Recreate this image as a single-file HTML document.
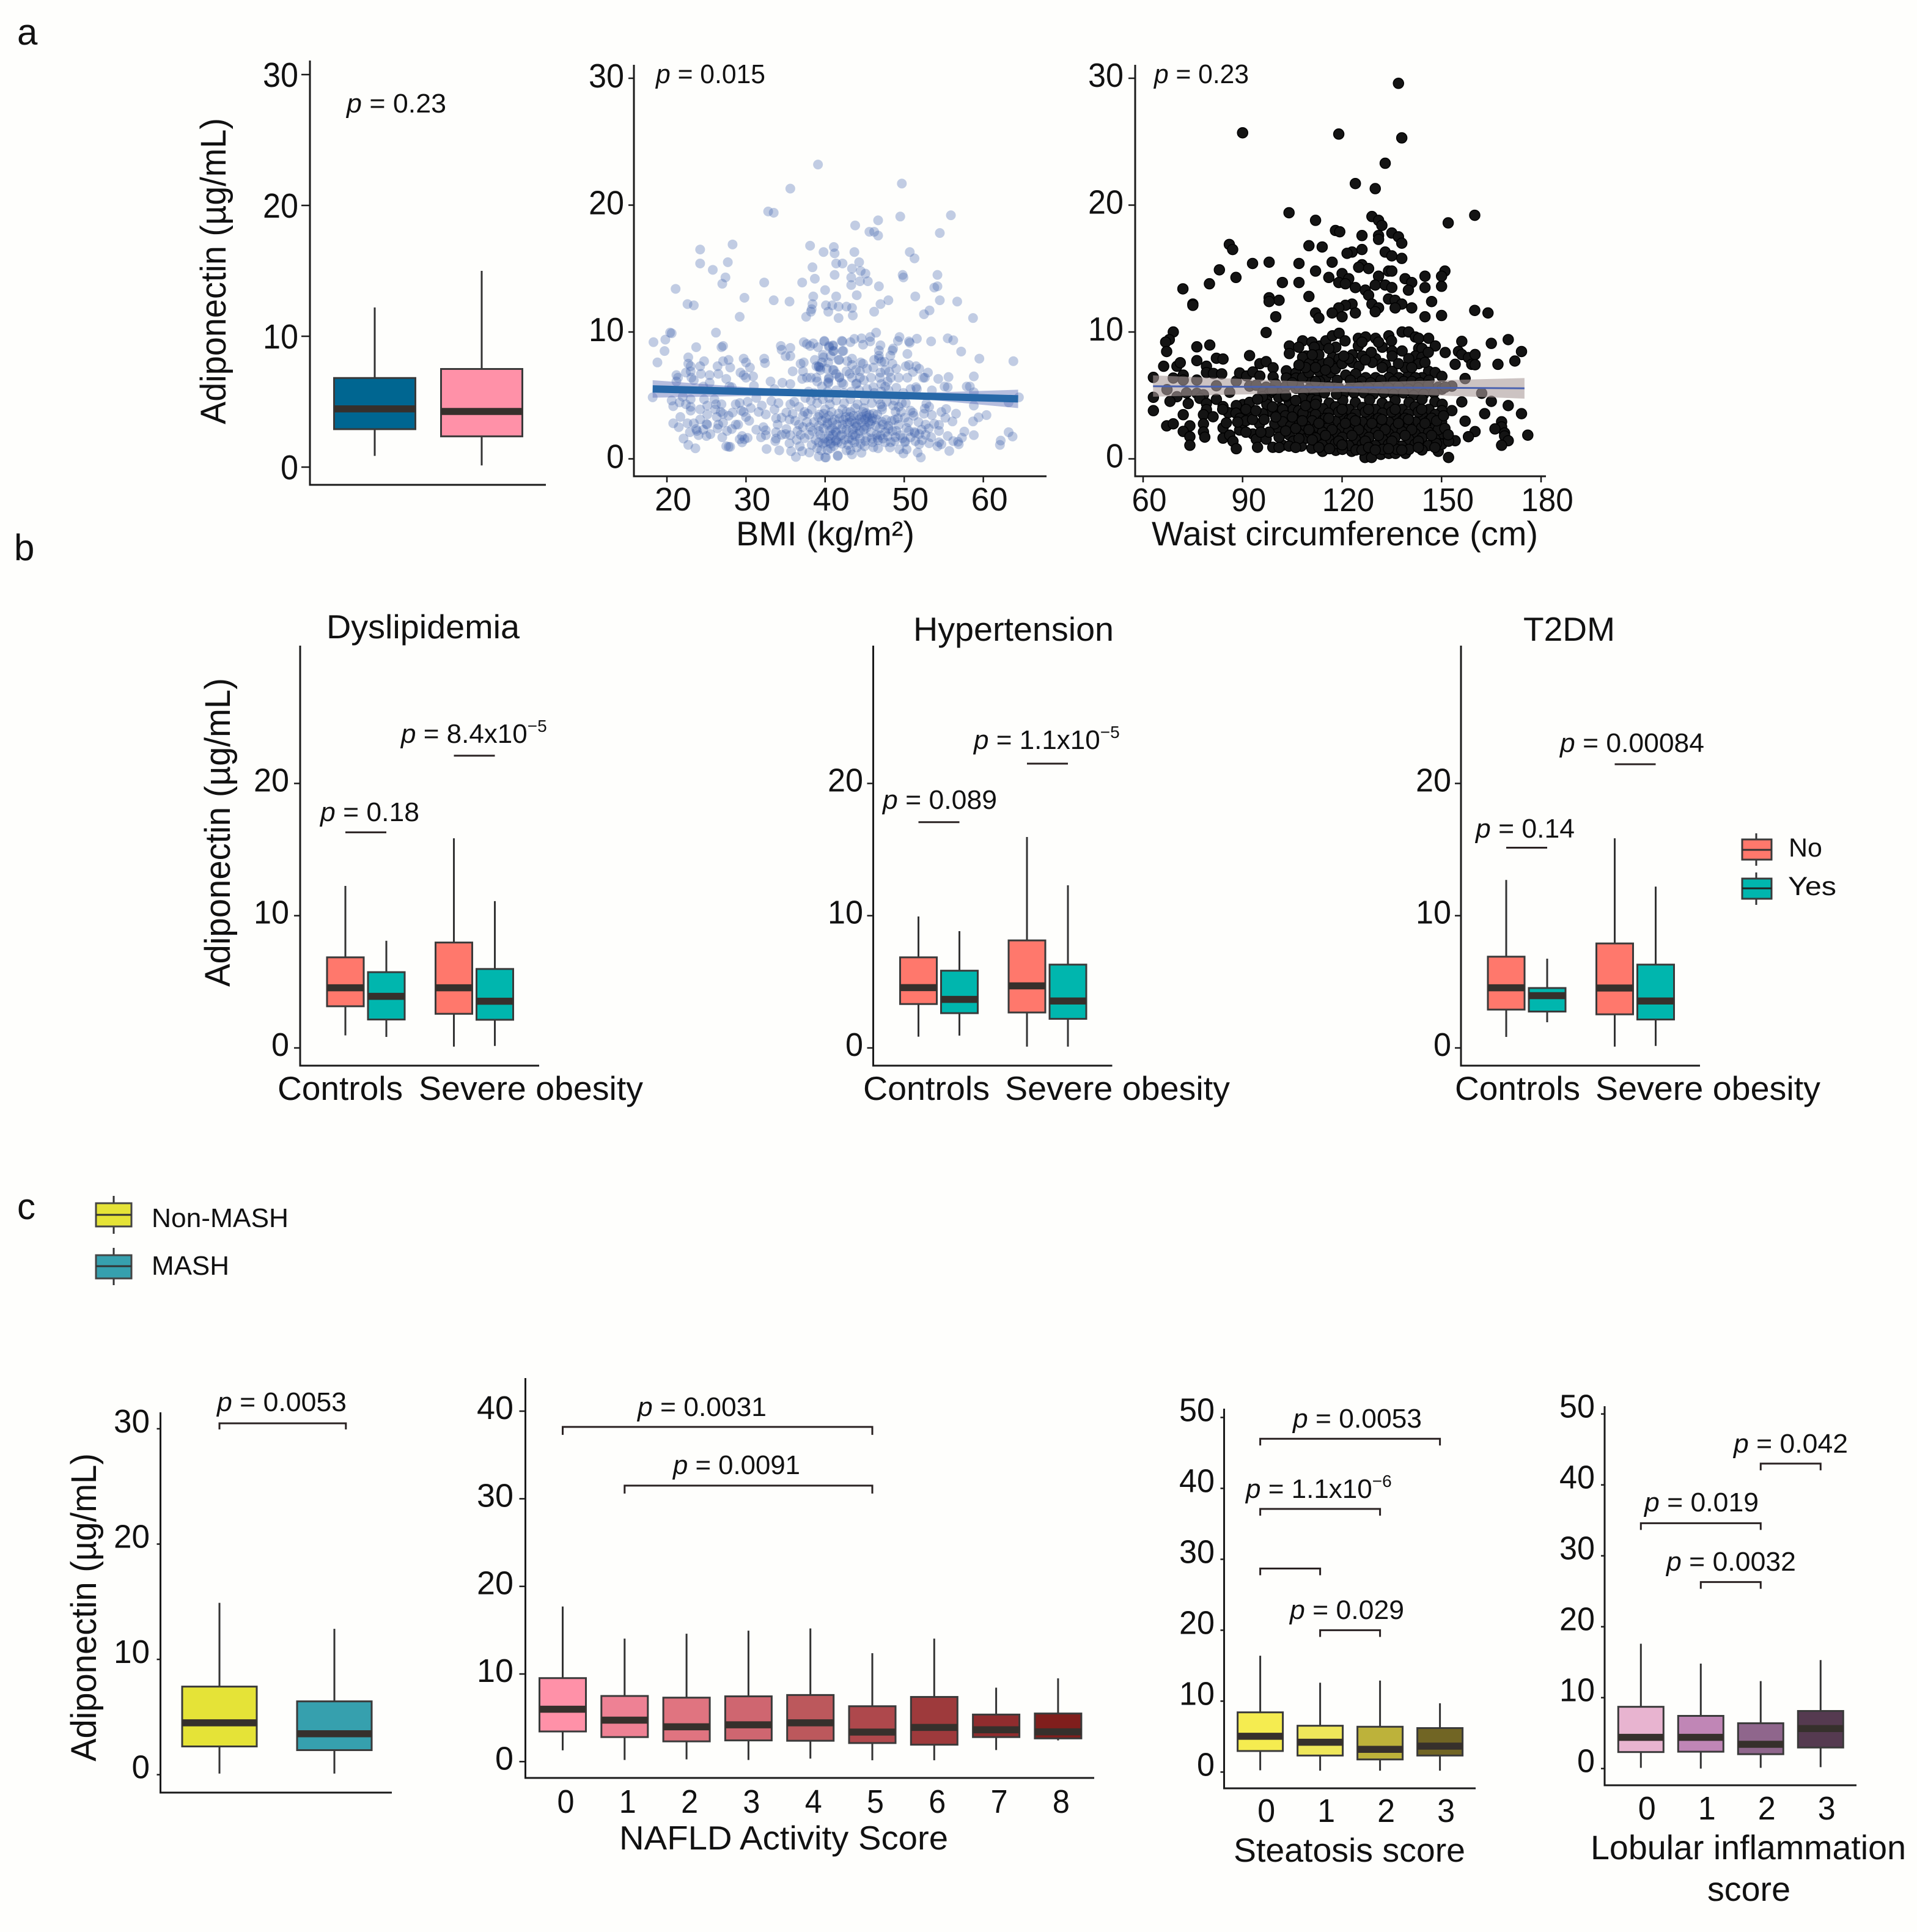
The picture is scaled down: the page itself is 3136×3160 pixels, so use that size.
<!DOCTYPE html>
<html lang="en">
<head>
<meta charset="utf-8">
<title>Adiponectin panels</title>
<style>
html,body{margin:0;padding:0;background:#fefefc;}
svg{display:block;font-family:"Liberation Sans",Arial,sans-serif;fill:#111;}
text{fill:#111;}
</style>
</head>
<body>
<svg id="figure" xmlns="http://www.w3.org/2000/svg" width="3136" height="3160" viewBox="0 0 3136 3160">
<rect width="3136" height="3160" fill="#fefefc"/>

<text x="28" y="73" font-size="60">a</text>
<text x="23" y="916" font-size="60">b</text>
<text x="28" y="1994" font-size="60">c</text>

<g id="a1">
<text transform="translate(369,694) rotate(-90)" font-size="58" textLength="501" lengthAdjust="spacingAndGlyphs">Adiponectin (µg/mL)</text>
<text x="567" y="184" font-size="44" textLength="163" lengthAdjust="spacingAndGlyphs"><tspan font-style="italic">p</tspan> = 0.23</text>
</g>
<g id="a2">
<text x="1073" y="136" font-size="44" textLength="179" lengthAdjust="spacingAndGlyphs"><tspan font-style="italic">p</tspan> = 0.015</text>
<text x="1204" y="892" font-size="56" textLength="292" lengthAdjust="spacingAndGlyphs">BMI (kg/m²)</text>
</g>
<g id="a3">
<text x="1888" y="136" font-size="44" textLength="155" lengthAdjust="spacingAndGlyphs"><tspan font-style="italic">p</tspan> = 0.23</text>
<text x="1884" y="892" font-size="56" textLength="632" lengthAdjust="spacingAndGlyphs">Waist circumference (cm)</text>
</g>

<g id="b1">
<text x="534" y="1044" font-size="55" textLength="316" lengthAdjust="spacingAndGlyphs">Dyslipidemia</text>
<text transform="translate(376,1614) rotate(-90)" font-size="58" textLength="505" lengthAdjust="spacingAndGlyphs">Adiponectin (µg/mL)</text>
<text x="524" y="1343" font-size="44" textLength="162" lengthAdjust="spacingAndGlyphs"><tspan font-style="italic">p</tspan> = 0.18</text>
<text x="656" y="1215" font-size="44"><tspan font-style="italic">p</tspan> = 8.4x10<tspan dy="-18" font-size="28">−5</tspan></text>
<text x="454" y="1799" font-size="55" textLength="205" lengthAdjust="spacingAndGlyphs">Controls</text>
<text x="685" y="1799" font-size="55" textLength="367" lengthAdjust="spacingAndGlyphs">Severe obesity</text>
</g>
<g id="b2">
<text x="1494" y="1048" font-size="55" textLength="328" lengthAdjust="spacingAndGlyphs">Hypertension</text>
<text x="1444" y="1323" font-size="44" textLength="187" lengthAdjust="spacingAndGlyphs"><tspan font-style="italic">p</tspan> = 0.089</text>
<text x="1593" y="1225" font-size="44"><tspan font-style="italic">p</tspan> = 1.1x10<tspan dy="-18" font-size="28">−5</tspan></text>
<text x="1412" y="1799" font-size="55" textLength="207" lengthAdjust="spacingAndGlyphs">Controls</text>
<text x="1644" y="1799" font-size="55" textLength="368" lengthAdjust="spacingAndGlyphs">Severe obesity</text>
</g>
<g id="b3">
<text x="2492" y="1048" font-size="55" textLength="150" lengthAdjust="spacingAndGlyphs">T2DM</text>
<text x="2414" y="1370" font-size="44" textLength="162" lengthAdjust="spacingAndGlyphs"><tspan font-style="italic">p</tspan> = 0.14</text>
<text x="2552" y="1230" font-size="44" textLength="236" lengthAdjust="spacingAndGlyphs"><tspan font-style="italic">p</tspan> = 0.00084</text>
<text x="2380" y="1799" font-size="55" textLength="205" lengthAdjust="spacingAndGlyphs">Controls</text>
<text x="2610" y="1799" font-size="55" textLength="368" lengthAdjust="spacingAndGlyphs">Severe obesity</text>
</g>
<g id="legend-b">
<g>
<line x1="2873" x2="2873" y1="1363" y2="1416" stroke="#333" stroke-width="3"/>
<rect x="2850" y="1373" width="48" height="33" fill="#ff786c" stroke="#3a3a3a" stroke-width="3"/>
<line x1="2850" x2="2898" y1="1390" y2="1390" stroke="#333" stroke-width="3"/>
<text x="2926" y="1401" font-size="43">No</text>
</g>
<g>
<line x1="2873" x2="2873" y1="1427" y2="1480" stroke="#333" stroke-width="3"/>
<rect x="2850" y="1437" width="48" height="33" fill="#00b6ae" stroke="#3a3a3a" stroke-width="3"/>
<line x1="2850" x2="2898" y1="1453" y2="1453" stroke="#222" stroke-width="3"/>
<text x="2925" y="1464" font-size="43" textLength="79" lengthAdjust="spacingAndGlyphs">Yes</text>
</g>
</g>

<g id="legend-c">
<g>
<line x1="186" x2="186" y1="1956" y2="2018" stroke="#333" stroke-width="3"/>
<rect x="157" y="1968" width="58" height="38" fill="#e5e337" stroke="#444" stroke-width="3"/>
<line x1="157" x2="215" y1="1987" y2="1987" stroke="#333" stroke-width="3"/>
<text x="248" y="2007" font-size="44" textLength="224" lengthAdjust="spacingAndGlyphs">Non-MASH</text>
</g>
<g>
<line x1="186" x2="186" y1="2041" y2="2102" stroke="#333" stroke-width="3"/>
<rect x="157" y="2053" width="58" height="38" fill="#36a0ae" stroke="#444" stroke-width="3"/>
<line x1="157" x2="215" y1="2071" y2="2071" stroke="#333" stroke-width="3"/>
<text x="248" y="2085" font-size="44" textLength="127" lengthAdjust="spacingAndGlyphs">MASH</text>
</g>
</g>

<g id="c1">
<text transform="translate(157,2881) rotate(-90)" font-size="58" textLength="504" lengthAdjust="spacingAndGlyphs">Adiponectin (µg/mL)</text>
<text x="355" y="2308" font-size="44" textLength="212" lengthAdjust="spacingAndGlyphs"><tspan font-style="italic">p</tspan> = 0.0053</text>
</g>
<g id="c2">
<text x="1043" y="2316" font-size="44" textLength="211" lengthAdjust="spacingAndGlyphs"><tspan font-style="italic">p</tspan> = 0.0031</text>
<text x="1101" y="2411" font-size="44" textLength="208" lengthAdjust="spacingAndGlyphs"><tspan font-style="italic">p</tspan> = 0.0091</text>
<text x="1013" y="3025" font-size="55" textLength="538" lengthAdjust="spacingAndGlyphs">NAFLD Activity Score</text>
</g>
<g id="c3">
<text x="2115" y="2335" font-size="44" textLength="211" lengthAdjust="spacingAndGlyphs"><tspan font-style="italic">p</tspan> = 0.0053</text>
<text x="2038" y="2450" font-size="44"><tspan font-style="italic">p</tspan> = 1.1x10<tspan dy="-18" font-size="28">−6</tspan></text>
<text x="2110" y="2648" font-size="44" textLength="187" lengthAdjust="spacingAndGlyphs"><tspan font-style="italic">p</tspan> = 0.029</text>
<text x="2018" y="3045" font-size="55" textLength="379" lengthAdjust="spacingAndGlyphs">Steatosis score</text>
</g>
<g id="c4">
<text x="2836" y="2376" font-size="44" textLength="187" lengthAdjust="spacingAndGlyphs"><tspan font-style="italic">p</tspan> = 0.042</text>
<text x="2690" y="2472" font-size="44" textLength="187" lengthAdjust="spacingAndGlyphs"><tspan font-style="italic">p</tspan> = 0.019</text>
<text x="2726" y="2569" font-size="44" textLength="212" lengthAdjust="spacingAndGlyphs"><tspan font-style="italic">p</tspan> = 0.0032</text>
<text x="2602" y="3041" font-size="56" textLength="516" lengthAdjust="spacingAndGlyphs">Lobular inflammation</text>
<text x="2793" y="3109" font-size="56" textLength="136" lengthAdjust="spacingAndGlyphs">score</text>
</g>
</svg>

<script>
// ---- Panel a: box plot ----
const a1Groups = ['Controls', 'Severe obesity'];
const a1Low = [0.86, 0.13];
const a1Q1 = [2.9, 2.35];
const a1Median = [4.45, 4.25];
const a1Q3 = [6.81, 7.5];
const a1High = [12.2, 15];
const a1Colors = ['#006691', '#ff91a8'];
const commonTicks = [0, 10, 20, 30];
const tallTicks = [0, 10, 20, 30, 40];
const tallestTicks = [0, 10, 20, 30, 40, 50];
const panelBTicks = [0, 10, 20];

// ---- Panel b ----
const b1Low = [0.95, 0.83, 0.1, 0.15];
const b1Q1 = [3.15, 2.15, 2.58, 2.13];
const b1Median = [4.55, 3.9, 4.55, 3.53];
const b1Q3 = [6.85, 5.73, 7.97, 5.97];
const b1High = [12.25, 8.1, 15.85, 11.1];
const b2Low = [0.85, 0.93, 0.1, 0.1];
const b2Q1 = [3.32, 2.63, 2.68, 2.2];
const b2Median = [4.56, 3.67, 4.69, 3.55];
const b2Q3 = [6.85, 5.84, 8.13, 6.3];
const b2High = [9.94, 8.83, 15.95, 12.3];
const b3Low = [0.83, 1.94, 0.1, 0.15];
const b3Q1 = [2.9, 2.75, 2.54, 2.15];
const b3Median = [4.55, 3.95, 4.53, 3.55];
const b3Q3 = [6.9, 4.53, 7.9, 6.3];
const b3High = [12.7, 6.75, 15.85, 12.2];
const bColors = ['#ff786c', '#00b6ae', '#ff786c', '#00b6ae'];
const b1BracketLevels = [16.3, 22.1];
const b2BracketLevels = [17.07, 21.5];
const b3BracketLevels = [15.14, 21.45];
const bBracketFrom = [0, 2];
const bBracketTo = [1, 3];

// ---- Panel c ----
const c1Low = [0.1, 0.1];
const c1Q1 = [2.45, 2.13];
const c1Median = [4.5, 3.55];
const c1Q3 = [7.64, 6.36];
const c1High = [14.9, 12.65];
const c1Colors = ['#e5e337', '#36a0ae'];
const c1BracketFrom = [0];
const c1BracketTo = [1.1];
const c1BracketLevels = [30.47];

const c2Categories = ['0', '1', '2', '3', '4', '5', '6', '7', '8'];
const c2Low = [1.29, 0.19, 0.26, 0.19, 0.34, 0.15, 0.15, 1.32, 2.42];
const c2Q1 = [3.44, 2.8, 2.31, 2.42, 2.38, 2.12, 1.93, 2.8, 2.65];
const c2Median = [5.98, 4.73, 3.97, 4.2, 4.43, 3.37, 3.9, 3.63, 3.4];
const c2Q3 = [9.53, 7.49, 7.3, 7.45, 7.6, 6.32, 7.38, 5.37, 5.49];
const c2High = [17.7, 14.04, 14.6, 14.95, 15.2, 12.37, 14.04, 8.44, 9.5];
const c2Colors = ['#ff91a8', '#ee8194', '#e07480', '#cf6670', '#bc585c', '#ae484c', '#9e3a3c', '#902c2e', '#801e1c'];
const c2BracketFrom = [0, 1];
const c2BracketTo = [5, 5];
const c2BracketLevels = [38.2, 31.5];

const c3Categories = ['0', '1', '2', '3'];
const c3Low = [0.25, 0.2, 0.2, 0.2];
const c3Q1 = [2.97, 2.33, 1.78, 2.33];
const c3Median = [5.05, 4.2, 3.2, 3.66];
const c3Q3 = [8.42, 6.53, 6.39, 6.2];
const c3High = [16.4, 12.6, 12.9, 9.7];
const c3Colors = ['#f5ec50', '#efe75a', '#bdb23a', '#716524'];
const c3BracketFrom = [0, 0, 0, 1];
const c3BracketTo = [3, 2, 1, 2];
const c3BracketLevels = [47, 37.1, 28.7, 20];

const c4Categories = ['0', '1', '2', '3'];
const c4Low = [0.1, 0, 0.1, 0.2];
const c4Q1 = [2.33, 2.38, 2.03, 2.97];
const c4Median = [4.4, 4.4, 3.42, 5.64];
const c4Q3 = [8.71, 7.43, 6.39, 8.12];
const c4High = [17.6, 14.8, 12.33, 15.3];
const c4Colors = ['#e8b4d0', '#c086b6', '#8f668c', '#553a50'];
const c4BracketFrom = [2, 0, 1];
const c4BracketTo = [3, 2, 2];
const c4BracketLevels = [43, 34.6, 26.3];

// ---- Panel a: BMI scatter ----
const bmiTicksX = [20, 30, 40, 50, 60];
const bmiFitX = [18.2, 30, 41, 52, 64.4];
const bmiFitY = [5.51, 5.31, 5.14, 4.95, 4.73];
const bmiFitUpper = [6.2, 5.65, 5.33, 5.2, 5.45];
const bmiFitLower = [4.82, 4.95, 4.95, 4.72, 4.0];
const bmiPoints = [
[39.1,23.2],[49.7,21.7],[35.6,21.3],[32.8,19.5],[33.5,19.4],[49.5,19.1],[55.9,19.2],[46.7,18.8],[43.8,18.4],[45.6,17.9],[46.2,17.9],[46.7,17.6],[54.5,17.8],[28.3,16.9],[24.2,16.5],[38.1,16.8],[41.1,16.7],[39.8,16.3],[41.2,16.2],[43.7,16.3],[50.7,16.3],[51.3,15.8],[24.2,15.4],[27.7,15.5],[44.3,15.5],[41.4,15.4],[42.2,15.4],[38.4,15.1],[43.4,15],[25.8,14.9],[44.5,14.8],[45.1,14.6],[27.4,14.3],[41.2,14.5],[49.8,14.5],[49.9,14.3],[54.2,14.5],[38.7,14.2],[43.3,14.3],[32.3,13.9],[37.1,13.9],[44.4,14],[45.4,14],[27,13.8],[43.3,13.7],[46.8,13.6],[53.8,13.5],[54.2,13.6],[21.1,13.4],[40,13.3],[38.5,12.8],[41.4,12.8],[44,12.9],[51.4,12.8],[29.8,12.7],[33.5,12.5],[35.5,12.4],[48,12.5],[54.5,12.5],[56.7,12.4],[22.6,12.2],[23.4,12.1],[40.1,12.1],[38.4,12.2],[40.9,12.1],[41.7,12],[42.7,12],[43.4,11.9],[47,12.2],[38.3,11.8],[38.2,11.6],[40.4,11.6],[46.2,11.6],[53.2,11.7],[29.2,11.2],[37.6,11.2],[41.7,11.1],[43.5,11.3],[52.5,11.4],[58.7,11.1],
[18.3,9.2],[19.8,9.4],[20.4,9.95],[20.6,9.9],[19.7,8.5],[18.8,7.6],[26.2,9.95],[23.7,8.8],[27.1,8.9],[26.9,8.8],[22.7,8],[24.7,7.7],[22.7,7.5],[23,7.3],[24.2,7.3],[22.4,6.8],[23,6.9],[24.3,6.7],[21.2,6.6],[21.4,6.4],[21.2,6.1],[23.1,6.4],[23.4,6.2],[25.4,6.6],[26.5,6.7],[26.4,7.3],[27.1,7.7],[27.8,7.8],[28,7.2],[29.7,7.9],[30,7.6],[29.3,6.8],[29.7,6.6],[30,6.4],[30.9,6.5],[27.9,5.7],[24.6,5.7],[28.2,5.65],[31,5.76],[32.3,7.9],[32.4,7.55],[34.4,8.9],[34.5,8.6],[35.6,8.75],[35,8.1],[35.6,8.1],[35.9,6.9],[36.9,7.5],[37.3,7.6],[37.2,6.9],[34.6,6],[35.6,5.9],[37.3,9.2],[37.7,9.05],[38.1,8.9],[38.5,9.1],[39.1,8.8],[39.9,9.3],[40.5,8.8],[41,8.9],[41.1,8.5],[42.1,9.3],[39.7,8.2],[39.8,8],[40.4,7.6],[40.7,8.1],[41.7,7.8],[42.2,8.5],[39.2,7.3],[39.4,7],[39.2,7.25],[37.7,6.4],[38.2,6.4],[38.9,6.4],[37.1,6.3],[40.5,6.4],[40.4,6.05],[41.1,7],[41.4,6.7],[41.8,6.4],[42.1,6],
[18.2,4.85],[20.6,4.6],[20.8,4.15],[21.6,4.45],[22.4,4.3],[23,4.7],[23,4.1],[23,3.8],[24.2,3.9],[25.1,4.2],[24.7,4.7],[26,4.7],[26.2,4.3],[26.9,4.3],[26.1,3.9],[26.8,3.7],[27.1,3.55],[25.1,3.5],[27.8,3.4],[28.3,3.65],[28.7,4.3],[29.2,4.4],[30.2,4.5],[29.4,3.8],[29.7,3.7],[30.6,4],[30,3.3],[30.4,3],[31.6,3.7],[32,4.2],[32.5,3.5],[33.6,3.9],[33.2,4.56],[35.6,4.3],[35.1,3.65],[35.9,3.55],[34.5,3.24],[35.5,3.1],[21.7,3.3],[20.8,2.8],[21.5,2.5],[22.6,2.8],[23.4,2.8],[22.9,2.1],[23.7,2.35],[23.8,2.2],[24,1.87],[22.1,1.6],[22.7,1.1],[23.6,0.83],[25,1.8],[25.5,1.95],[25.1,2.7],[25,2.75],[26.4,2.4],[26.5,2.7],[27.1,2.85],[28.2,2.35],[28.7,2.7],[29,2.7],[27,1.7],[27.5,1],[27.8,0.95],[28,0.95],[29.5,1.8],[29.2,1.55],[29.5,1.3],[29.8,1.55],[30.2,1.65],[31.3,2.3],[31.9,1.7],[32.2,2.5],[32.5,2.25],[32.5,1.87],[32.6,0.78],[34.2,0.67],[34,2.7],[33.8,2.1],[33.8,1.6],[33.7,1.4],[35.1,2.35],[35,1.95],[35.6,1.87],[35.5,1.23],[35.7,0.6],[36.3,0.15],[37.1,0.6],[36.8,0.99],[37.4,1.63],[37.2,3.4],[36.7,2.7],[37.8,3.56],[37.4,3.7],[39.2,0.19],[40.1,0.11],[41.6,0.27],[39,0.83],[39.5,0.67],[40.7,0.83],
[39.9,9.26],[40.5,8.9],[41,8.95],[41,8.5],[42.2,9.26],[42.3,8.5],[43.2,9.2],[43.7,9.46],[44.6,9.5],[44.8,9],[45.7,9.6],[45.7,9.26],[46.45,9.95],[47,8.95],[46.8,8.54],[46.8,8.14],[48.6,8.7],[48.5,8.54],[48.25,8.14],[49.4,9.6],[49.2,9.3],[50.6,9.26],[51.6,9.47],[50.7,9.15],[53.4,9.26],[55.5,9.5],[56.2,9.35],[57.2,8.46],[59.5,7.9],[63.8,7.7],[50.4,8.27],[41.8,7.8],[42.8,7.7],[43.4,7.9],[43.4,7.4],[44.5,7.6],[44.8,7.5],[45.3,7.1],[46.1,7.2],[46.2,7.8],[46.8,7.9],[47.1,7.65],[47.5,7.65],[47,6.8],[47.6,7],[48.1,6.85],[48.5,7.5],[49,7.1],[45.8,6.4],[48.3,6.4],[49.3,6.4],[50.4,6.4],[50.2,7.3],[50.6,7.4],[51.1,6.85],[51.5,7.3],[51.9,7.1],[53,6.8],[52.4,6.4],[52.6,6.4],[54.3,6.3],[55.6,6.45],[58.8,6.5],[51.5,5.65],[51.6,5.5],[53.5,5.4],[55.1,5.7],[55.5,5.65],[57.9,5.7],[58.3,5.7],[58.8,5.25],[43.1,6.7],[43.4,6.4],[44.4,6.4],[41,7],[41.8,6.45],[40.45,6.3],[42.3,5.9],[43.9,5.9],[44,5.95],[46.1,5.65],[47.1,5.9],[47.6,5.7],[40.4,5.97],[39.4,7.2],[64.5,4.85],[63.2,4.45],[58.8,4.2],[52.8,4.35],[53.15,4.1],[54.7,3.7],[55.3,3.93],[55.2,3.24],[56.1,2.95],[56.55,3.56],[53.5,3.45],[52.6,3.96],[52.5,3.56],[58.7,2.95],[59.4,3.27],[60.4,3.45],[63.2,2.1],[63.7,1.76],[62.2,1.44],[62.1,1.1],[57.6,2.15],[58.8,1.87],[57.3,1.67],[56.8,1.35],[56.2,1.4],[56.9,1.15],[55.5,1.8],[55.7,0.62],[54.4,2.68],[53.8,2.76],[54.4,2.2],[54.2,0.99],[54.7,1.15],[54.4,1.31],[51.9,1.15],[52.1,0.11],[51.7,0.5],[53.15,1.23],[53.4,1.71],[52.25,1.47],[51.9,1.95],[51.35,2.03],[50.6,2.2],[50.1,1.31],[49.4,0.75],[49.9,0.43],[50.3,0.75],[47.2,3.88],[47.2,4.1],[47,4.3],[48.9,3.72],[51.1,3.64],[51.2,3.4],[50.05,3.24],[48.8,3.08],[48,2.36],[48.9,1.71],[46.6,1.63],[46.7,1.47],[47,1.87],[46.1,0.91],[46.7,0.83],[44.6,0.48],[43.4,0.35],[43.2,0.67],[41.6,0.22],[40,0.11],
[45.4,3.24],[45.3,3.4],[44.8,3.7],[44.4,2.2],[44,2.6],[43.2,3.7],[42.1,2.36],[41.6,1.3],[40.3,2.7],[40.3,2.84],[43.4,1.47],[41.4,1.47],[40.4,1.39],[42.7,0.67],[43.9,2.5],[41.7,3.56],[40.8,3.7],[39.8,3.56],[42.3,3.08],[43.6,3.4],[46.1,3.56],[45.7,2.76],[45.2,2.44],[47.2,2.92],[47.7,3.08],[48,2.6],[49.3,2.68],[48.3,1.31],[48.8,1.39],[49.8,1.63],[50.1,1.39],[49.5,1.87],[50.3,2.44],[51.3,2.12],
[38.2,4.6],[39,4.4],[39.7,4.7],[40.6,4.3],[41.4,4.6],[42.4,4.4],[43.2,4.7],[44.1,4.3],[45,4.6],[45.9,4.4],[46.7,4.7],[47.8,4.5],[48.8,4.6],[49.7,4.4],[38.3,3.9],[39.1,3.3],[38.6,2.9],[39.2,2.6],[38.4,2.2],[39.4,1.9],[38.8,1.5],[39.7,1.2],[40.6,2.2],[41,1.9],[41.5,2.7],[42.8,2.8],[43,2.1],[43.8,1.8],[44.5,1.2],[45.3,1.7],[45.8,2.1],[46.4,2.6],[47.6,2.1],[47.6,1.3],[48.2,0.9],[49,2.2],[38.1,2.5],[37.7,2.9],[38,1.9],[38.3,1.1],[39.8,2.4],[40.1,3.2],[40.9,2.9],[41.2,3.1],[42.2,3.9],[42.6,3.3],[43.1,2.9],[43.5,2.3],[44.6,2.9],[44.3,3.1],[45,2.6],[45.9,3],[46.5,3.1],[46.9,2.4],[41.9,1.8],[42.5,1.5],[42.9,1.1],[44,0.9],[45,1],[46,1.3],[40.3,0.7],[41.1,1],[39.2,1.3],[38,0.5],[40.7,1.6],[36.9,1.9],[36.5,2.2],[37.2,2.5],[36.2,3],[36.7,4.1],[37.5,4.8],[38.6,5.2],[40.3,5.3],[42.4,5.2],[44.3,5.4],[46.2,5.2],[48,5.4],[49.9,5.2],
[39.3,3.5],[39.6,3],[40,3.9],[40.5,3.4],[40.9,2.4],[41.3,2.2],[41.8,3.2],[42.2,2.7],[42.7,3.7],[43.1,3.3],[43.4,3],[43.8,2.8],[44.2,3.4],[44.6,3.3],[45,3.1],[45.2,3.6],[45.6,3.5],[45.5,2.9],[46,3.2],[44.9,2.3],[44.2,2],[43.5,1.9],[42.7,2.3],[42.1,1.9],[41.4,2.1],[40.5,1.8],[39.9,1.6],[39.2,2.2],[40,1.3],[40.7,1.2],[41.3,1.4],[42.1,1.2],[43,1.6],[43.7,1.3],[44.4,1.6],[45.1,1.4],[45.9,1.6],[46.5,1.9],[47.3,1.6],[47.9,1.8],[47.3,2.7],[46.6,3.5],[48.4,3],[48.5,2.2],[49.2,3.2],[49.6,3.7],[50.5,2.9],[50.8,3.8],[51.8,2.9],[52.2,2.3],[52.7,2.7],[53.1,2.4],[51.4,1.4],[52.7,1.9],[50.8,1.7],[48.6,4.2],[49.3,4.1],[50.2,4.4],[44.9,4],[43.8,4],[40.5,4.8],[38.9,5],[37.9,5.3],[41.4,5.4],[43.3,5.3],[45.3,5.5],[47.1,5.3],[49,5.6],[50.8,5.5],[39,6.1],[39.6,5.7],[44.9,6.2],[46.9,6.4],[47.9,6.1],[38.7,7.8],[38.9,7.3],[39.6,7.6],[40.2,7.1],[42.7,6.9],[43.9,7],[44.4,6.9],[33.8,3.2],[34.1,4.4],[34.5,1.9],[36.4,1.5],[36.1,4.5],[31.3,4.8],[26.3,3.3],[27.6,2.2],[24.6,2.3],[24.2,3.1],[22,4.9],[25.4,6],[27.5,6.3],[30.5,7.2],[33.1,6.1],[33.6,5.5]
];

// ---- Panel a: waist scatter ----
const waistTicksX = [60, 90, 120, 150, 180];
const waistFitX = [63, 120, 175];
const waistFitY = [5.72, 5.64, 5.56];
const waistFitUpper = [6.58, 5.98, 6.37];
const waistFitLower = [4.9, 5.27, 4.75];
const waistPoints = [
[137,29.6],[90,25.7],[119,25.6],[138,25.3],[133,23.3],[124,21.7],[130,21.3],[104,19.4],[160,19.2],[129,19.1],[112,18.8],[131,18.8],[132,18.4],[152,18.6],[118,18],[119.3,17.9],[126,17.6],[135,17.8],[137,17.5],[131,17.6],[131,17.3],[138,17],[86,16.9],[87,16.5],[110,16.8],[114,16.7],[126,16.5],[123,16.3],[121.5,16.2],[133,16.3],[135,16],[138,15.8],[93,15.4],[98,15.5],[107,15.4],[117,15.5],[126,15.3],[125,15.1],[128,15],[83,14.9],[112,14.8],[120,14.6],[134,14.8],[135,14.8],[151,14.8],[131,14.4],[145,14.4],[150,14.4],[116,14.3],[122,14.2],[88,14.3],[139,14.2],[141,13.9],[102,13.9],[107,13.9],[80,13.8],[119,13.9],[121,13.8],[130,13.7],[133,13.7],[135,13.5],[150,13.6],[124,13.5],[145,13.5],[72,13.4],[127,13.3],[140,13.3],[128,12.9],[110,12.8],[98,12.7],[101,12.5],[98,12.4],[134,12.6],[136,12.5],[138,12.2],[147,12.4],[75,12.2],[75,12.1],[129,12.2],[123,12.2],[121,12.1],[119,11.9],[131,11.9],[136,11.9],[141,11.9],[112,11.5],[117,11.5],[124,11.5],[130,11.6],[160,11.7],[164,11.5],[100,11.2],[113,11.1],[120,11.2],[145,11.2],[150,11.3],
[69.1,10],[67.9,9.4],[66.8,9.2],[67.1,8.46],[76.2,8.83],[80.1,8.97],[92.1,8.14],[97.1,9.96],[66.2,7.3],[70.2,7.3],[71.2,7.58],[76.2,7.74],[79.1,7.3],[82.1,7.93],[84.1,7.87],[79.1,6.8],[81.2,6.73],[83.7,6.7],[63.1,6.42],[69.1,6.37],[72.1,6.6],[72.1,6.21],[76.2,6.21],[88.1,6.13],[89.1,6.77],[91.2,6.53],[93.1,6.85],[95.2,6.53],[95.2,7.5],[97.1,7.66],[99.2,7.18],[99.2,6.45],[103.2,6.94],[103.2,6.37],[106.1,6.77],[106.1,6.37],
[67.2,5.46],[70.2,4.9],[73.1,5.2],[76.2,5.17],[78.2,5.05],[82.1,5.76],[86.1,5.25],[92.1,5.73],[94.1,5.8],[97.1,5.65],[96.1,5.25],[98.1,5.17],[101.1,5.25],[106.1,5.57],[149,5.65],[153.1,5.73],[150.1,5.49],[151.1,5.65],[157.1,6.33],[162.1,5.17],
[63.1,4.85],[63.1,3.8],[68.1,4.53],[73.6,4.36],[77.1,4.77],[79.1,4.36],[82.1,4.69],[79.1,3.88],[84.1,4.12],[85.7,3.64],[90.1,4.28],[92.1,4.45],[88.1,4.2],[90.1,3.48],[72.1,3.48],[78.2,3.48],[81.1,3.32],[67.1,2.6],[69.1,2.76],[74.1,2.6],[72.1,2.16],[78.2,2.76],[78.2,2.12],[78.6,1.71],[74.1,1.75],[74.1,1.07],[84.1,2.44],[84.1,1.63],[85.1,2.84],[86.1,1.87],[87.1,1.39],[88.1,0.8],[89.1,2.27],[90.1,2.84],[92.1,3.48],[93.1,1.96],[94.1,1.55],[97.1,1.55],[95.1,2.76],[94.5,0.91],[99.1,0.91],[102.1,1.07],[100.5,2.44],[88,3.6],[89.2,3.2],[91,3],[93,3.1],[84,3.9],
[156.1,9.26],[165,9.1],[170.1,9.4],[174.1,8.46],[151.1,8.38],[155.1,8.46],[156.1,8.22],[158.1,7.98],[160.1,8.22],[154.1,7.45],[159.1,7.45],[160.1,7.42],[167,7.45],[172.1,7.71],[156.1,4.49],[165,4.53],[170.1,4.2],[153.1,3.8],[163,3.56],[174.1,3.56],[157.1,2.97],[168.1,2.92],[168.1,2.52],[166.1,2.36],[169,2.04],[169,1.8],[160.1,2.15],[158.1,1.75],[176,1.87],[170.1,1.43],[168.1,1.07],[154.1,1.43],[152.1,0.11],[149,0.59],[150.1,1.15],[152.1,1.39],[126.9,0.11],[128.9,0.11],[131.7,0.35],[134.1,0.43],[136.1,0.43],[139.1,0.43],
[104.1,8.9],[104.1,8.3],[108.1,9.3],[110.9,9.2],[106.9,8.8],[109.1,8.1],[108.1,8],[113.3,8.9],[115.1,9.3],[117.1,9.7],[119.1,9.9],[120.9,9.3],[118.1,8.8],[124.9,9.5],[127.1,9.6],[130.1,9.5],[124.9,8.9],[134.1,9.7],[134.9,9.3],[138.1,10],[140.1,10],[142.1,9.6],[143.1,9.5],[146.1,9.5],[148.1,8.9],[132.1,8.8],[135.1,8.5],[135.1,8.1],[138.1,8.5],[143.1,8.7],[144.1,8.7],[142.1,8.1],[140.1,7.9],[144.1,8],[143.1,7.5],[123.1,8.2],[126.1,8.1],[117.1,8],[119.1,7.9],[112.1,7.8],[110.1,7.5],[114.1,7.5],[117.1,7.3],[123.1,7.6],[125.1,7.3],[130.1,7.9],[129.1,7.6],[132.1,7.5],[133.1,7.4],[132.1,7.2],[135.1,6.9],[140.1,6.7],[146.1,6.9],[148.1,6.8],[150.1,6.5],[144.1,6.4],[142.1,6.4],[137.1,6.4],[134.1,6.4],[130.1,6.4],[127.1,6.4],[124.1,6.7],[121.1,6.6],[115.1,6.4],[113.1,6.9],[110.1,6.3],[108.1,6.4],[116,8.7],[128.8,8.4],[111.6,8.8],[116.5,6.8],[118.5,6.2],[122.5,6.2],[125.9,6.1],[128.6,6],[131.7,6.2],[135.5,6.1],[138.6,6.1],[141,6.1],[143.5,6],[146.2,6.2],[113.2,6.1],
[107,5.7],[110,5.5],[113,5.6],[116,5.7],[119,5.6],[122,5.5],[125,5.7],[128,5.6],[131,5.7],[134,5.6],[137,5.7],[140,5.5],[143,5.6],[146,5.8],[108.4,5.2],[111.6,5.1],[114.7,5.2],[120.4,5.1],[123.6,5.2],[126.6,5.2],[129.4,5.1],[132.6,5.2],[135.5,5.1],[138.5,5.2],[141.6,5],[144.6,5.1],[147.7,5.2],
[97.3,4.6],[97.3,4.3],[100.9,4.85],[104.1,4.45],[108.1,4.77],[110.9,4.7],[101.3,4],[98.9,3.7],[96.1,3.56],[102.1,3.9],[105.3,3.9],[106.9,3.8],[102.9,3.4],[106.1,3.08],[109.3,3.4],[99.7,2.76],[102.1,2.92],[104.5,2.6],[104.1,1.87],[105.3,1.39],[107.7,1],[110.9,0.83],[114.1,0.59],[118.1,0.67],[122.9,0.59],[107.7,2.27],[109.3,1.63],[112.5,1.31],
[112.3,4.6],[116.1,4.4],[120.2,4.6],[124,4.45],[128.3,4.65],[132.1,4.4],[136,4.6],[140.2,4.45],[144.1,4.7],[148,4.5],[150.2,4.3],[110.1,4.1],[114.2,3.95],[118,4.1],[122.1,3.9],[126.2,4.05],[130,3.9],[134.2,4.1],[138.1,3.9],[142,4.1],[146.2,3.9],[150.1,3.8],[108.2,3.6],[112,3.5],[115.9,3.6],[120,3.4],[124.1,3.55],[128,3.4],[132.2,3.6],[136.1,3.4],[140,3.55],[144.2,3.4],[148.1,3.5],[111,3],[114.2,3.05],[118,2.95],[122.1,3.1],[126.1,2.9],[130,3.05],[134.1,2.9],[138.2,3.05],[142.1,2.9],[146.1,3],[150,2.9],[109,2.6],[112.5,2.5],[116.1,2.6],[120,2.45],[124.1,2.6],[128.2,2.45],[132,2.6],[136.1,2.45],[140.2,2.6],[144,2.45],[148.2,2.55],[110.3,2.05],[114.1,2.1],[118.1,2],[122,2.15],[126.1,2],[130.2,2.1],[134,2],[138.1,2.15],[142,2],[146.1,2.1],[150.1,2],[112,1.65],[116,1.55],[120.1,1.7],[124,1.55],[128.1,1.7],[132.2,1.55],[136,1.7],[140.1,1.55],[144.1,1.65],[148,1.55],[114,1.1],[118,1.2],[122,1.05],[126.1,1.15],[130,1.05],[134,1.15],[138,1],[142,1.15],[146,1.05],[116.2,0.8],[120.1,0.75],[124.2,0.7],[132.2,0.75],[136.5,0.75],[140.2,0.75],[144.1,0.7],[148.5,1.2],[115,3.2],[119,3.7],[123,3.2],[127,3.7],[131,3.2],[135,3.7],[139,3.2],[143,3.7],[147,3.2],[113,2.8],[117,2.3],[121,2.8],[125,2.3],[129,2.8],[133,2.3],[137,2.8],[141,2.3],[145,2.8],[149,2.3],[115,1.85],[119,1.4],[123,1.85],[127,1.4],[131,1.85],[135,1.4],[139,1.85],[143,1.4],[147,1.85],
[96,4.9],[99,4.1],[100,3.3],[96.5,3.1],[98,2.1],[101,1.7],[95.5,2.1],[103,2.2],[106,2.4],[107,1.6],[108,3],[105,3.3],[109,4.2],[103,4.9],[106,4.6],[111,1.5],[110,2.3],[88.5,2.9],[91,2.1],[91,3.9],[94,3.8],[94.5,4.7],[100,5.9],[103,5.7],[110,6.8],[112,6.1],[118,7.1],[120,7.5],[127,7.8],[122,7.9],[120.5,8.1],[126,9.2],[131,9.2],[139,7.2],[137,7.5],[141,7.2],[145,7.6],[146,8.4],[116,7.6],[113,8.2],[111,8.2],[109,7.2],[105,6],[115,7],[112,7.2],[107,7.4],[118.3,5.1],[99,5.4],[103,5],[148.5,3],[151,2.4],[150.6,3.4],[152,1.9],[101,0.9],[104,1],[106,0.9],[113,0.9],[120,1.1],[126,0.7],[128,0.9],[130,0.7],[134,0.8],[138,0.7],[143,0.9],[148,0.9],[112,4.3],[116,3.2],[120,3.9],[124,3],[128,3.9],[132,3.1],[136,3.9],[140,3.1],[144,3.9]
];

// ---- Drawing helpers ----
const SVG_NS = 'http://www.w3.org/2000/svg';
function make(parent, tag, attrs) {
  const el = document.createElementNS(SVG_NS, tag);
  for (const k in attrs) el.setAttribute(k, attrs[k]);
  parent.appendChild(el);
  return el;
}
function linearScale(zeroPx, pxPerUnit) {
  return function (v) { return zeroPx + v * pxPerUnit; };
}
function drawAxes(root, o) {
  const yAxis = make(root, 'line', { x1: o.axisX, x2: o.axisX, y1: o.top, y2: o.bottom, stroke: '#1a1a1a', 'stroke-width': 3 });
  
  
  const xAxis = make(root, 'line', { x1: o.axisX - 1.5, x2: o.xEnd, y1: o.bottom, y2: o.bottom, stroke: '#1a1a1a', 'stroke-width': 3 });
  
  
  o.ticks.forEach(function (t) {
    const y = o.y(t);
    const mark = make(root, 'line', { x1: o.axisX - o.tickLen, x2: o.axisX, y1: y, y2: y, stroke: '#1a1a1a', 'stroke-width': 2.5 });
    
    
    const label = make(root, 'text', { x: o.labelRight, y: y + o.labelDy, 'font-size': o.labelSize, 'text-anchor': 'end', textLength: String(t).length * o.digitWidth, lengthAdjust: 'spacingAndGlyphs' });
    label.textContent = String(t);
    
    
  });
}
function drawXTicks(root, o) {
  o.ticks.forEach(function (t) {
    const x = o.x(t);
    const mark = make(root, 'line', { x1: x, x2: x, y1: o.axisY, y2: o.axisY + 10, stroke: '#1a1a1a', 'stroke-width': 2.5 });
    
    
    const label = make(root, 'text', { x: x + o.labelDx, y: o.labelY, 'font-size': o.labelSize, 'text-anchor': 'middle', textLength: String(t).length * o.digitWidth, lengthAdjust: 'spacingAndGlyphs' });
    label.textContent = String(t);
    
    
  });
}
function drawCategoryLabels(root, o) {
  o.labels.forEach(function (t, i) {
    const label = make(root, 'text', { x: o.x(i) + o.labelDx, y: o.labelY, 'font-size': o.labelSize, 'text-anchor': 'middle', textLength: o.labelWidth, lengthAdjust: 'spacingAndGlyphs' });
    label.textContent = t;
    
    
  });
}
function drawBoxes(root, o) {
  o.median.forEach(function (_, i) {
    const cx = o.x(i);
    const half = o.width / 2;
    const whisker = make(root, 'line', { x1: cx, x2: cx, y1: o.y(o.high[i]), y2: o.y(o.low[i]), stroke: '#333', 'stroke-width': 3 });
    
    
    const body = make(root, 'rect', { x: cx - half, y: o.y(o.q3[i]), width: o.width, height: o.y(o.q1[i]) - o.y(o.q3[i]), fill: o.colors[i], stroke: '#3a3a3a', 'stroke-width': 3 });
    
    
    const med = make(root, 'line', { x1: cx - half, x2: cx + half, y1: o.y(o.median[i]), y2: o.y(o.median[i]), stroke: '#36302c', 'stroke-width': 11.5 });
    
    
  });
}
function drawBrackets(root, o) {
  o.levels.forEach(function (lv, i) {
    const y = o.y(lv);
    const a = o.x(o.from[i]);
    const b = o.x(o.to[i]);
    const d = 'M' + a + ' ' + (y + o.drop) + 'V' + y + 'H' + b + 'V' + (y + o.drop);
    const bracket = make(root, 'path', { d: d, fill: 'none', stroke: '#2a2222', 'stroke-width': 3 });
    
    
  });
}
function drawRibbon(root, x, y, xs, upper, lower, fill) {
  let d = '';
  xs.forEach(function (v, i) { d += (i ? 'L' : 'M') + x(v) + ' ' + y(upper[i]); });
  for (let i = xs.length - 1; i >= 0; i--) d += 'L' + x(xs[i]) + ' ' + y(lower[i]);
  const ribbon = make(root, 'path', { d: d + 'Z', fill: fill });
  
  
}
function drawFit(root, x, y, xs, ys, color, width) {
  const pts = xs.map(function (v, i) { return x(v) + ',' + y(ys[i]); }).join(' ');
  const fit = make(root, 'polyline', { points: pts, fill: 'none', stroke: color, 'stroke-width': width });
  
  
}

// ---- Panel a ----
(function () {
  const root = document.getElementById('a1');
  const y = linearScale(764, -21.4);
  const x = linearScale(613, 175);
  drawAxes(root, { axisX: 507, top: 99, bottom: 793, xEnd: 893, y: y, ticks: commonTicks, tickLen: 14, labelRight: 488, labelDy: 20, labelSize: 57, digitWidth: 29 });
  drawBoxes(root, { x: x, y: y, width: 133, low: a1Low, q1: a1Q1, median: a1Median, q3: a1Q3, high: a1High, colors: a1Colors });
})();
(function () {
  const root = document.getElementById('a2');
  const y = linearScale(750.5, -20.75);
  const x = linearScale(1091 - 20 * 12.94, 12.94);
  drawAxes(root, { axisX: 1037, top: 106, bottom: 779, xEnd: 1712, y: y, ticks: commonTicks, tickLen: 9, labelRight: 1021, labelDy: 15, labelSize: 55, digitWidth: 29 });
  drawXTicks(root, { x: x, ticks: bmiTicksX, axisY: 779, labelDx: 10, labelY: 835, labelSize: 54, digitWidth: 30 });
  bmiPoints.forEach(function (p) {
    const dot = make(root, 'circle', { cx: x(p[0]), cy: y(p[1]), r: 8, fill: '#3a5cac', 'fill-opacity': 0.31 });
    
    
  });
  drawRibbon(root, x, y, bmiFitX, bmiFitUpper, bmiFitLower, 'rgba(80,100,180,0.42)');
  drawFit(root, x, y, bmiFitX, bmiFitY, '#2768a8', 12);
})();
(function () {
  const root = document.getElementById('a3');
  const y = linearScale(750.5, -20.75);
  const x = linearScale(1870 - 60 * 5.425, 5.425);
  drawAxes(root, { axisX: 1857, top: 106, bottom: 779, xEnd: 2529, y: y, ticks: commonTicks, tickLen: 11, labelRight: 1838, labelDy: 14, labelSize: 55, digitWidth: 29 });
  drawXTicks(root, { x: x, ticks: waistTicksX, axisY: 779, labelDx: 10, labelY: 836, labelSize: 54, digitWidth: 28.5 });
  waistPoints.forEach(function (p) {
    const dot = make(root, 'circle', { cx: x(p[0]), cy: y(p[1]), r: 8.5, fill: '#141414', stroke: '#000', 'stroke-width': 1.5 });
    
    
  });
  drawRibbon(root, x, y, waistFitX, waistFitUpper, waistFitLower, 'rgba(170,155,155,0.6)');
  drawFit(root, x, y, waistFitX, waistFitY, '#4a62b0', 3);
})();

// ---- Panel b ----
function drawPanelB(id, axisX, labelRight, low, q1, median, q3, high, levels) {
  const root = document.getElementById(id);
  const y = linearScale(1714, -21.63);
  const x = function (i) { return axisX + 74 + Math.floor(i / 2) * 177.5 + Math.floor(i) % 2 * 67; };
  drawAxes(root, { axisX: axisX, top: 1056, bottom: 1743, xEnd: axisX + 391, y: y, ticks: panelBTicks, tickLen: 10, labelRight: labelRight, labelDy: 13, labelSize: 54, digitWidth: 29 });
  drawBoxes(root, { x: x, y: y, width: 60, low: low, q1: q1, median: median, q3: q3, high: high, colors: bColors });
  drawBrackets(root, { x: x, y: y, levels: levels, from: bBracketFrom, to: bBracketTo, drop: 0 });
}
drawPanelB('b1', 491, 473, b1Low, b1Q1, b1Median, b1Q3, b1High, b1BracketLevels);
drawPanelB('b2', 1428.5, 1412, b2Low, b2Q1, b2Median, b2Q3, b2High, b2BracketLevels);
drawPanelB('b3', 2390, 2374, b3Low, b3Q1, b3Median, b3Q3, b3High, b3BracketLevels);

// ---- Panel c ----
(function () {
  const root = document.getElementById('c1');
  const y = linearScale(2902.7, -18.86);
  const x = linearScale(359, 188);
  drawAxes(root, { axisX: 262.5, top: 2310, bottom: 2932, xEnd: 641, y: y, ticks: commonTicks, tickLen: 6, labelRight: 245, labelDy: 6, labelSize: 54, digitWidth: 29.5 });
  drawBoxes(root, { x: x, y: y, width: 122, low: c1Low, q1: c1Q1, median: c1Median, q3: c1Q3, high: c1High, colors: c1Colors });
  drawBrackets(root, { x: x, y: y, levels: c1BracketLevels, from: c1BracketFrom, to: c1BracketTo, drop: 10 });
})();
(function () {
  const root = document.getElementById('c2');
  const y = linearScale(2881.3, -14.33);
  const x = linearScale(920.5, 101.3);
  drawAxes(root, { axisX: 859.5, top: 2254, bottom: 2908, xEnd: 1790, y: y, ticks: tallTicks, tickLen: 10, labelRight: 840, labelDy: 13, labelSize: 54, digitWidth: 30 });
  drawCategoryLabels(root, { x: x, labels: c2Categories, labelDx: 5, labelY: 2965, labelSize: 54, labelWidth: 28 });
  drawBoxes(root, { x: x, y: y, width: 76, low: c2Low, q1: c2Q1, median: c2Median, q3: c2Q3, high: c2High, colors: c2Colors });
  drawBrackets(root, { x: x, y: y, levels: c2BracketLevels, from: c2BracketFrom, to: c2BracketTo, drop: 13 });
})();
(function () {
  const root = document.getElementById('c3');
  const y = linearScale(2898.4, -11.6);
  const x = linearScale(2061.6, 98);
  drawAxes(root, { axisX: 2002.5, top: 2304, bottom: 2925, xEnd: 2414, y: y, ticks: tallestTicks, tickLen: 6, labelRight: 1987, labelDy: 6, labelSize: 54, digitWidth: 29 });
  drawCategoryLabels(root, { x: x, labels: c3Categories, labelDx: 10, labelY: 2980, labelSize: 54, labelWidth: 29 });
  drawBoxes(root, { x: x, y: y, width: 74, low: c3Low, q1: c3Q1, median: c3Median, q3: c3Q3, high: c3High, colors: c3Colors });
  drawBrackets(root, { x: x, y: y, levels: c3BracketLevels, from: c3BracketFrom, to: c3BracketTo, drop: 11 });
})();
(function () {
  const root = document.getElementById('c4');
  const y = linearScale(2892.7, -11.6);
  const x = linearScale(2684.3, 98);
  drawAxes(root, { axisX: 2625, top: 2300, bottom: 2920, xEnd: 3037, y: y, ticks: tallestTicks, tickLen: 6, labelRight: 2609, labelDy: 6, labelSize: 54, digitWidth: 29 });
  drawCategoryLabels(root, { x: x, labels: c4Categories, labelDx: 10, labelY: 2976, labelSize: 54, labelWidth: 29 });
  drawBoxes(root, { x: x, y: y, width: 74, low: c4Low, q1: c4Q1, median: c4Median, q3: c4Q3, high: c4High, colors: c4Colors });
  drawBrackets(root, { x: x, y: y, levels: c4BracketLevels, from: c4BracketFrom, to: c4BracketTo, drop: 11 });
})();
</script>
</body>
</html>
